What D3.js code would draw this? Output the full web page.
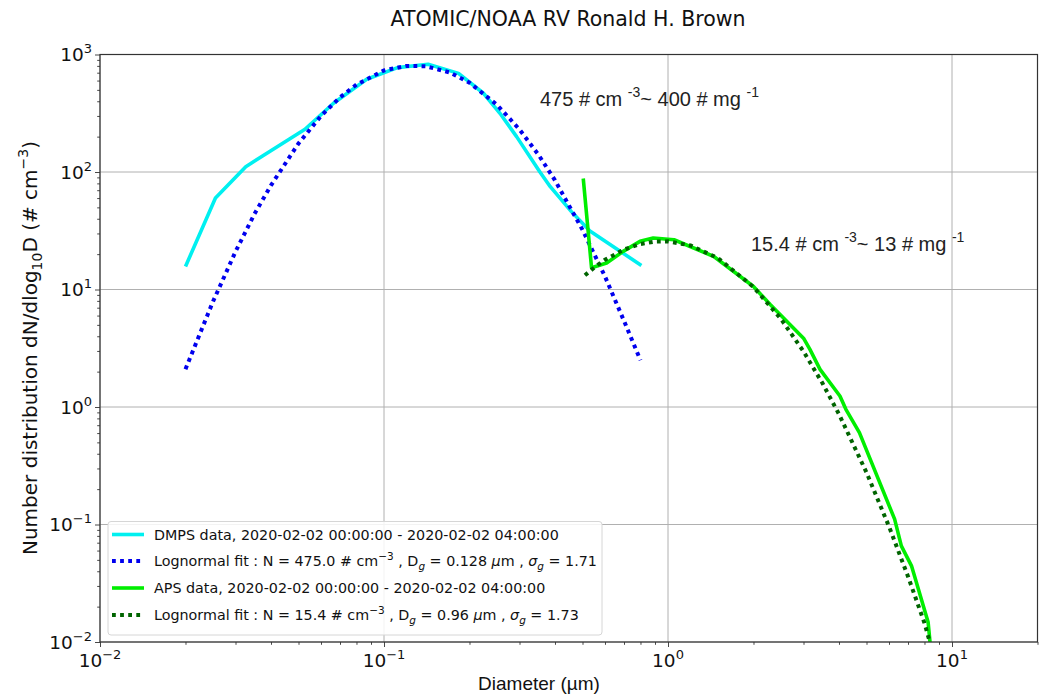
<!DOCTYPE html>
<html>
<head>
<meta charset="utf-8">
<script src="https://cdn.jsdelivr.net/npm/d3@7"></script>
<style>
  html, body { margin: 0; padding: 0; background: #fff; }
  svg { display: block; }
</style>
</head>
<body>
<svg id="chart" width="1043" height="694"></svg>
<script>
// ---------------- data ----------------
const dmpsDiameters = [0.02, 0.0255, 0.0326, 0.0527, 0.0664, 0.0869, 0.1116, 0.143, 0.183, 0.224, 0.256, 0.293, 0.354, 0.385, 0.457, 0.531, 0.806];
const dmpsValues    = [15.7, 60, 111, 231, 385, 615, 773, 826, 691, 468, 316, 200, 100, 75, 46, 31.5, 16];

const dmpsFitDiameters = [0.02, 0.025, 0.03, 0.035, 0.04, 0.05, 0.06, 0.07, 0.08, 0.1, 0.12, 0.14, 0.17, 0.2, 0.25, 0.3, 0.35, 0.4, 0.5, 0.6, 0.7, 0.8];
const dmpsFitValues    = [2.1, 7.9, 21, 44, 77, 175, 300, 432, 554, 732, 800, 795, 705, 575, 373, 230, 140, 85, 32.2, 12.9, 5.4, 2.5];

const apsDiameters = [0.503, 0.538, 0.608, 0.695, 0.797, 0.887, 1.05, 1.45, 2.0, 2.29, 3.0, 3.16, 3.43, 4.03, 4.23, 4.72, 6.28, 6.63, 7.2, 8.24, 8.4];
const apsValues    = [88, 15.3, 16.8, 21.1, 25.7, 27.4, 26.5, 19.1, 10.6, 7.45, 3.85, 3.09, 2.09, 1.24, 0.955, 0.605, 0.111, 0.0658, 0.0445, 0.0147, 0.009];

const apsFitDiameters = [0.51, 0.55, 0.6, 0.7, 0.8, 0.9, 1.0, 1.2, 1.5, 2.0, 2.5, 3.0, 3.5, 4.0, 5.0, 6.0, 7.0, 8.0, 8.35];
const apsFitValues    = [13.2, 15.4, 17.9, 21.9, 24.4, 25.6, 25.7, 23.7, 18.5, 10.5, 5.61, 2.97, 1.59, 0.869, 0.277, 0.0963, 0.0361, 0.0145, 0.0100];

const xMajorTicks = [0.01, 0.1, 1, 10];
const xTickExponents = ["\u22122", "\u22121", "0", "1"];
const yMajorTicks = [0.01, 0.1, 1, 10, 100, 1000];
const yTickExponents = ["\u22122", "\u22121", "0", "1", "2", "3"];

const titleText = "ATOMIC/NOAA RV Ronald H. Brown";
// ---------------- layout ----------------
const svg = d3.select("#chart");
const pLeft = 100, pRight = 1037.5, pTop = 54.5, pBottom = 642;

const x = d3.scaleLog().domain([0.01, 20]).range([pLeft, pRight]);
const y = d3.scaleLog().domain([0.01, 1000]).range([pBottom, pTop]);

const sansMpl = "'DejaVu Sans', sans-serif";
const sansHelv = "'Liberation Sans', Arial, sans-serif";

// clip
svg.append("defs").append("clipPath").attr("id", "plotclip")
  .append("rect").attr("x", pLeft).attr("y", pTop).attr("width", pRight - pLeft).attr("height", pBottom - pTop);

// minor tick values
function minors(lo, hi) {
  const out = [];
  for (let e = lo; e <= hi; e++) {
    for (let m = 2; m <= 9; m++) out.push(m * Math.pow(10, e));
  }
  return out;
}
const xMinor = minors(-2, 1).filter(v => v <= 20);
const yMinor = minors(-2, 2);

// grid
const grid = svg.append("g");
grid.selectAll("line.gx").data(xMajorTicks).join("line")
  .attr("x1", d => x(d)).attr("x2", d => x(d)).attr("y1", pTop).attr("y2", pBottom)
  .attr("stroke", "#b0b0b0").attr("stroke-width", 1);
grid.selectAll("line.gy").data(yMajorTicks).join("line")
  .attr("y1", d => y(d)).attr("y2", d => y(d)).attr("x1", pLeft).attr("x2", pRight)
  .attr("stroke", "#b0b0b0").attr("stroke-width", 1);

// axes ticks (labels drawn below with superscripts)
const xAxisMajor = d3.axisBottom(x).tickValues(xMajorTicks).tickSize(5).tickFormat("");
const xAxisMinor = d3.axisBottom(x).tickValues(xMinor).tickSize(2.8).tickFormat("");
const yAxisMajor = d3.axisLeft(y).tickValues(yMajorTicks).tickSize(5).tickFormat("");
const yAxisMinor = d3.axisLeft(y).tickValues(yMinor).tickSize(2.8).tickFormat("");

function styleAxis(g) {
  g.select(".domain").remove();
  g.selectAll(".tick line").attr("stroke", "#333").attr("stroke-width", 0.9);
}
svg.append("g").attr("transform", `translate(0,${pBottom})`).call(xAxisMajor).call(styleAxis);
svg.append("g").attr("transform", `translate(0,${pBottom})`).call(xAxisMinor).call(styleAxis);
svg.append("g").attr("transform", `translate(${pLeft},0)`).call(yAxisMajor).call(styleAxis);
svg.append("g").attr("transform", `translate(${pLeft},0)`).call(yAxisMinor).call(styleAxis);

// tick labels
const xl = svg.append("g").attr("font-family", sansMpl).attr("font-size", 18.5).attr("fill", "#111");
xMajorTicks.forEach((v, i) => {
  const t = xl.append("text").attr("x", x(v)).attr("y", 667).attr("text-anchor", "middle");
  t.append("tspan").text("10");
  t.append("tspan").attr("dy", -8).attr("font-size", 13).text(xTickExponents[i]);
});
const yl = svg.append("g").attr("font-family", sansMpl).attr("font-size", 18.5).attr("fill", "#111");
yMajorTicks.forEach((v, i) => {
  const t = yl.append("text").attr("x", 92).attr("y", y(v) + 6.5).attr("text-anchor", "end");
  t.append("tspan").text("10");
  t.append("tspan").attr("dy", -8).attr("font-size", 13).text(yTickExponents[i]);
});

// curves
const line = d3.line().x(d => x(d[0])).y(d => y(d[1]));
const plot = svg.append("g").attr("clip-path", "url(#plotclip)");
const zip = (a, b) => a.map((d, i) => [d, b[i]]);

plot.append("path").datum(zip(dmpsDiameters, dmpsValues)).attr("d", line)
  .attr("fill", "none").attr("stroke", "#00f0f0").attr("stroke-width", 3.6).attr("stroke-linejoin", "round");
plot.append("path").datum(zip(dmpsFitDiameters, dmpsFitValues)).attr("d", line)
  .attr("fill", "none").attr("stroke", "#0000ee").attr("stroke-width", 4).attr("stroke-dasharray", "3.8,4.3");
plot.append("path").datum(zip(apsDiameters, apsValues)).attr("d", line)
  .attr("fill", "none").attr("stroke", "#00ee00").attr("stroke-width", 3.6).attr("stroke-linejoin", "round");
plot.append("path").datum(zip(apsFitDiameters, apsFitValues)).attr("d", line)
  .attr("fill", "none").attr("stroke", "#006400").attr("stroke-width", 4).attr("stroke-dasharray", "3.8,4.3");

// frame
svg.append("rect").attr("x", pLeft).attr("y", pTop).attr("width", pRight - pLeft).attr("height", pBottom - pTop)
  .attr("fill", "none").attr("stroke", "#333").attr("stroke-width", 1.2);

// title
svg.append("text").attr("x", 568).attr("y", 26).attr("text-anchor", "middle")
  .attr("font-family", sansMpl).attr("font-size", 20.5).attr("fill", "#111").text(titleText);

// axis labels
svg.append("text").attr("x", 539).attr("y", 690).attr("text-anchor", "middle")
  .attr("font-family", sansHelv).attr("font-size", 19).attr("fill", "#111").text("Diameter (\u00b5m)");

const ylab = svg.append("text").attr("transform", `translate(37,348) rotate(-90)`)
  .attr("text-anchor", "middle").attr("font-family", sansMpl).attr("font-size", 20).attr("fill", "#111");
ylab.append("tspan").text("Number distribution dN/dlog");
ylab.append("tspan").attr("dy", 5).attr("font-size", 14).text("10");
ylab.append("tspan").attr("dy", -5).text("D (# cm");
ylab.append("tspan").attr("dy", -9).attr("font-size", 14).text("\u22123");
ylab.append("tspan").attr("dy", 9).text(")");

// annotations
function annot(xp, yp, a, b) {
  const t = svg.append("text").attr("x", xp).attr("y", yp)
    .attr("font-family", sansHelv).attr("font-size", 20).attr("fill", "#222");
  t.append("tspan").text(a + " # cm ");
  t.append("tspan").attr("dy", -9).attr("font-size", 14).text("-3");
  t.append("tspan").attr("dy", 9).text("~ " + b + " # mg ");
  t.append("tspan").attr("dy", -9).attr("font-size", 14).text("-1");
}
annot(540, 106, "475", "400");
annot(751, 251, "15.4", "13");

// legend
const lg = svg.append("g");
lg.append("rect").attr("x", 108).attr("y", 521.5).attr("width", 494).attr("height", 113.5).attr("rx", 3)
  .attr("fill", "#fff").attr("fill-opacity", 0.85).attr("stroke", "#d6d6d6").attr("stroke-width", 1);
const legendRows = [
  { color: "#00f0f0", dash: null, yc: 534.5 },
  { color: "#0000ee", dash: "3.8,4.3", yc: 561 },
  { color: "#00ee00", dash: null, yc: 588 },
  { color: "#006400", dash: "3.8,4.3", yc: 615 }
];
legendRows.forEach(r => {
  const l = lg.append("line").attr("x1", 112).attr("x2", 144).attr("y1", r.yc).attr("y2", r.yc)
    .attr("stroke", r.color).attr("stroke-width", r.dash ? 4 : 3.6);
  if (r.dash) l.attr("stroke-dasharray", r.dash);
});
function legText(yc) {
  return lg.append("text").attr("x", 154).attr("y", yc + 5).attr("font-family", sansMpl)
    .attr("font-size", 14.3).attr("fill", "#111");
}
legText(534.5).text("DMPS data, 2020-02-02 00:00:00 - 2020-02-02 04:00:00");
legText(588).text("APS data, 2020-02-02 00:00:00 - 2020-02-02 04:00:00");
function fitText(yc, n, dg, sg) {
  const t = legText(yc);
  t.append("tspan").text("Lognormal fit : N = " + n + " # cm");
  t.append("tspan").attr("dy", -6).attr("font-size", 10.5).text("\u22123");
  t.append("tspan").attr("dy", 6).text(" , D");
  t.append("tspan").attr("dy", 4).attr("font-size", 10.5).attr("font-style", "italic").text("g");
  t.append("tspan").attr("dy", -4).text(" = " + dg + " ");
  t.append("tspan").attr("font-style", "italic").text("\u03bc");
  t.append("tspan").text("m , ");
  t.append("tspan").attr("font-style", "italic").text("\u03c3");
  t.append("tspan").attr("dy", 4).attr("font-size", 10.5).attr("font-style", "italic").text("g");
  t.append("tspan").attr("dy", -4).text(" = " + sg);
}
fitText(561, "475.0", "0.128", "1.71");
fitText(615, "15.4", "0.96", "1.73");
</script>
</body>
</html>
